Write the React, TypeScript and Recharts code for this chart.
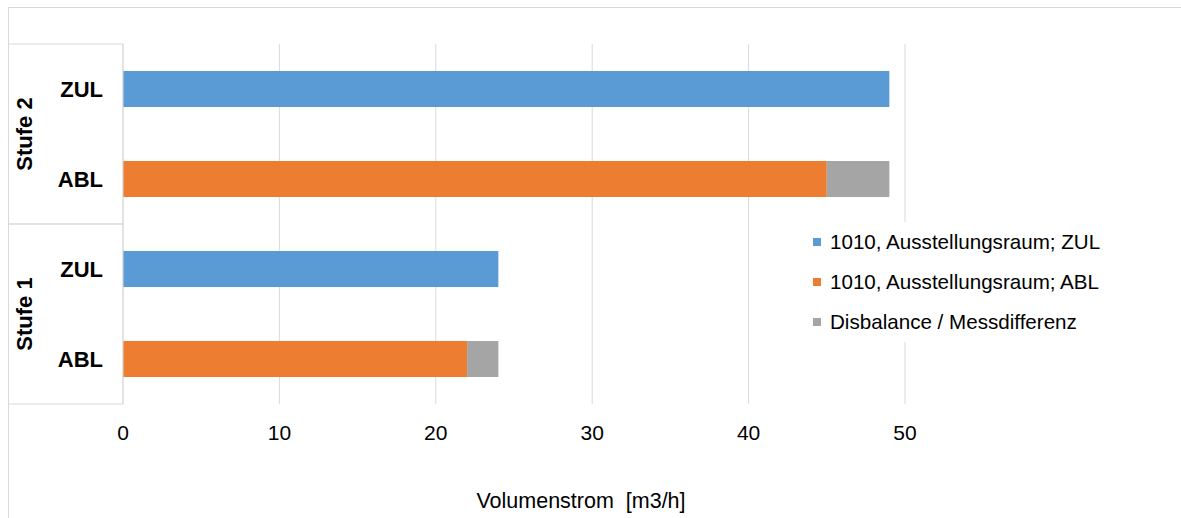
import React from 'react'
import { BarChart, Bar, XAxis, YAxis, CartesianGrid, Legend } from 'recharts'

// rows top to bottom
const rowLabels = ['ZUL', 'ABL', 'ZUL', 'ABL']
const stageLabels = ['Stufe 2', 'Stufe 2', 'Stufe 1', 'Stufe 1']
const zulValues = [49, null, 24, null]
const ablValues = [null, 45, null, 22]
const diffValues = [null, 4, null, 2]
const xTicks = [0, 10, 20, 30, 40, 50]

const SERIES = [
  { key: 'zul', name: '1010, Ausstellungsraum; ZUL', color: '#5B9BD5' },
  { key: 'abl', name: '1010, Ausstellungsraum; ABL', color: '#ED7D31' },
  { key: 'diff', name: 'Disbalance / Messdifferenz', color: '#A5A5A5' },
]

const FONT = '"Liberation Sans", Arial, sans-serif'
const GRID = '#D9D9D9'

const data = rowLabels.map((row, i) => ({
  row,
  stage: stageLabels[i],
  zul: zulValues[i],
  abl: ablValues[i],
  diff: diffValues[i],
}))

const RowTick = (props: any) => {
  const { x, y, payload } = props
  return (
    <text x={x} y={y} textAnchor="end" dominantBaseline="central" fontSize={22} fontWeight="bold" fill="#000" fontFamily={FONT}>
      {payload.value}
    </text>
  )
}

const StageTick = (props: any) => {
  const { x, y, payload } = props
  const half = payload.offset || 90
  return (
    <g>
      <line x1={0} x2={114} y1={y - half} y2={y - half} stroke={GRID} />
      <line x1={0} x2={114} y1={y + half} y2={y + half} stroke={GRID} />
      <text
        x={x - 31.5}
        y={y}
        textAnchor="middle"
        dominantBaseline="central"
        transform={`rotate(-90 ${x - 31.5} ${y})`}
        fontSize={22}
        fontWeight="bold"
        fill="#000"
        fontFamily={FONT}
      >
        {payload.value}
      </text>
    </g>
  )
}

const ValueTick = (props: any) => {
  const { x, y, payload } = props
  return (
    <text x={x} y={y + 28.5} textAnchor="middle" dominantBaseline="central" fontSize={21} fill="#000" fontFamily={FONT}>
      {payload.value}
    </text>
  )
}

// legend drawn in series order
const LegendBox = () => (
  <div style={{ background: '#fff', width: 310, fontFamily: FONT }}>
    {SERIES.map((s) => (
      <div key={s.key} style={{ height: 40, display: 'flex', alignItems: 'center', paddingLeft: 8 }}>
        <span style={{ width: 8, height: 8, background: s.color, display: 'inline-block', marginRight: 9 }} />
        <span style={{ fontSize: 20.6, color: '#000', whiteSpace: 'nowrap' }}>{s.name}</span>
      </div>
    ))}
  </div>
)

export default function App() {
  return (
    <div style={{ position: 'fixed', left: 0, top: 0, width: 1181, height: 518, overflow: 'hidden', background: '#fff' }}>
      <div
        style={{
          position: 'absolute',
          left: 8,
          top: 7,
          width: 1200,
          height: 530,
          border: `1px solid ${GRID}`,
          fontFamily: FONT,
        }}
      >
        <BarChart
          width={1172}
          height={510}
          data={data}
          layout="vertical"
          margin={{ top: 36, right: 276, left: 0, bottom: 0 }}
          style={{ fontFamily: FONT }}
        >
          <CartesianGrid horizontal={false} stroke={GRID} yAxisId="name" />
          <XAxis
            type="number"
            domain={[0, 50]}
            ticks={xTicks}
            axisLine={false}
            tickLine={false}
            tickSize={0}
            tickMargin={0}
            height={114}
            tick={<ValueTick />}
            label={{
              value: 'Volumenstrom\u00a0 [m3/h]',
              position: 'insideBottom',
              offset: 10,
              dx: 67,
              fill: '#000',
              fontSize: 21.5,
              fontFamily: FONT,
            }}
          />
          <YAxis
            yAxisId="name"
            type="category"
            dataKey="row"
            width={67}
            axisLine={{ stroke: GRID }}
            tickLine={false}
            tickSize={0}
            tickMargin={20}
            tick={<RowTick />}
          />
          <YAxis
            yAxisId="stage"
            type="category"
            dataKey="stage"
            allowDuplicatedCategory={false}
            width={47}
            axisLine={false}
            tickLine={false}
            tickSize={0}
            tickMargin={0}
            tick={<StageTick />}
          />
          <Legend
            layout="horizontal"
            verticalAlign="middle"
            align="center"
            content={<LegendBox />}
            wrapperStyle={{ left: 796, top: 214, width: 310 }}
          />
          {SERIES.map((s) => (
            <Bar
              key={s.key}
              yAxisId="name"
              dataKey={s.key}
              name={s.name}
              stackId="a"
              fill={s.color}
              barSize={36}
              isAnimationActive={false}
            />
          ))}
        </BarChart>
      </div>
    </div>
  )
}
